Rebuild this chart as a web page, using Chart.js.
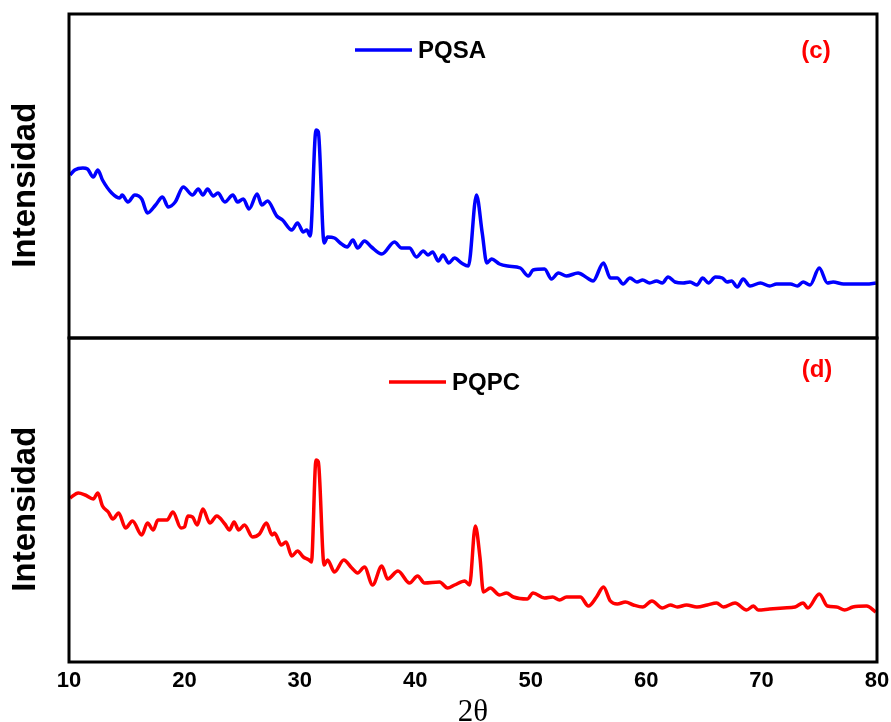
<!DOCTYPE html>
<html>
<head>
<meta charset="utf-8">
<script src="https://cdn.jsdelivr.net/npm/chart.js@4/dist/chart.umd.min.js"></script>
<style>
  html, body { margin: 0; padding: 0; background: #fff; }
  #wrap { width: 891px; height: 722px; }
</style>
</head>
<body>
<div id="wrap"><canvas id="xrd" width="891" height="722"></canvas></div>
<script>
// 2θ positions and intensity (a.u.)
const pqsaAngle = [10.1, 10.5, 11.2, 11.6, 12.1, 12.5, 12.9, 13.7, 14.4, 14.6, 15.1, 15.7, 16.3, 16.8, 17.5, 18.1, 18.6, 19.2, 19.9, 20.7,
  21.2, 21.6, 22.0, 22.5, 22.9, 23.5, 24.2, 24.6, 25.1, 25.6, 26.3, 26.7, 27.2, 28.0, 28.5, 29.3, 29.8, 30.3, 30.6, 30.9,
  31.4, 31.6, 32.1, 32.4, 33.0, 33.5, 34.1, 34.6, 35.0, 35.6, 36.2, 37.1, 38.2, 38.8, 39.5, 40.1, 40.7, 41.1, 41.5, 42.0,
  42.4, 42.9, 43.4, 44.0, 44.6, 45.3, 45.8, 46.2, 46.6, 47.3, 48.0, 49.1, 49.8, 50.2, 51.2, 51.8, 52.4, 53.1, 54.1, 54.9,
  55.4, 56.3, 56.9, 57.5, 58.0, 58.6, 59.2, 59.7, 60.3, 60.9, 61.4, 61.9, 62.5, 63.2, 63.8, 64.4, 64.9, 65.4, 66.0, 66.6,
  67.0, 67.4, 67.9, 68.4, 69.0, 69.9, 70.7, 71.3, 72.5, 73.1, 73.6, 74.2, 75.0, 75.7, 76.2, 77.1, 78.3, 79.1, 79.9];
const pqsaIntensity = [163, 168, 170, 169, 161, 168, 158, 145, 140, 143, 136, 143, 139, 125, 133, 141, 131, 136, 151, 143,
  149, 143, 149, 142, 145, 136, 143, 136, 139, 129, 144, 133, 137, 122, 118, 108, 115, 106, 108, 102,
  208, 206, 95, 101, 100, 95, 91, 98, 90, 97, 91, 84, 96, 90, 90, 81, 87, 83, 86, 77,
  83, 75, 80, 75, 72, 143, 105, 75, 79, 74, 72, 70, 62, 68, 69, 59, 65, 62, 65, 60,
  57, 75, 60, 60, 54, 60, 56, 58, 55, 57, 55, 61, 56, 55, 56, 53, 60, 55, 61, 60,
  56, 57, 51, 59, 52, 55, 52, 54, 54, 52, 56, 53, 70, 55, 56, 54, 54, 54, 55];

const pqpcAngle = [10.1, 10.8, 11.4, 12.1, 12.5, 12.9, 13.4, 13.8, 14.3, 14.9, 15.5, 16.3, 16.8, 17.3, 17.7, 18.5, 19.0, 19.7, 20.0, 20.3,
  20.7, 21.1, 21.6, 22.2, 22.8, 23.5, 23.9, 24.3, 24.7, 25.2, 25.9, 26.5, 27.1, 27.6, 27.8, 28.4, 28.8, 29.3, 29.8, 30.3,
  30.8, 31.0, 31.4, 31.6, 32.1, 32.4, 33.0, 33.8, 34.5, 35.0, 35.6, 36.3, 37.1, 37.6, 38.5, 39.5, 40.2, 40.8, 42.1, 42.8,
  43.4, 44.3, 44.7, 45.2, 45.6, 45.9, 46.5, 47.3, 47.9, 48.5, 49.7, 50.2, 51.2, 51.9, 52.5, 53.1, 54.3, 55.0, 55.7, 56.3,
  56.9, 57.5, 58.2, 58.9, 59.7, 60.5, 61.4, 62.1, 62.7, 63.5, 64.4, 65.3, 66.1, 66.7, 67.7, 68.7, 69.3, 69.7, 70.7, 71.9,
  72.9, 73.6, 74.0, 75.0, 75.7, 76.5, 77.2, 77.9, 79.1, 79.9];
const pqpcIntensity = [164, 169, 167, 163, 169, 156, 150, 143, 149, 134, 141, 127, 139, 132, 142, 142, 150, 134, 135, 146,
  145, 137, 153, 139, 146, 138, 132, 140, 132, 137, 125, 128, 139, 127, 129, 117, 120, 106, 111, 105,
  102, 100, 202, 200, 97, 102, 90, 102, 94, 89, 95, 77, 96, 83, 91, 79, 86, 79, 80, 74,
  77, 81, 77, 136, 105, 70, 74, 67, 69, 65, 63, 69, 64, 65, 62, 65, 65, 56, 65, 75,
  61, 58, 60, 57, 55, 61, 54, 57, 55, 57, 55, 57, 59, 55, 59, 52, 56, 52, 53, 54,
  55, 59, 54, 68, 56, 55, 52, 55, 56, 50];

const xTicks = [10, 20, 30, 40, 50, 60, 70, 80];
const panelLabels = ['(c)', '(d)'];

const toPoints = (xs, ys) => xs.map((x, i) => ({ x: x, y: ys[i] }));

// box around each panel + legend / panel letters
const panelPlugin = {
  id: 'panelPlugin',
  afterDatasetsDraw(chart, args, opts) {
    const ctx = chart.ctx;
    const area = chart.chartArea;
    ctx.save();
    ctx.strokeStyle = '#000';
    ctx.lineWidth = 3;
    ['yTop', 'yBot'].forEach(id => {
      const s = chart.scales[id];
      ctx.strokeRect(area.left, s.top, area.right - area.left, s.bottom - s.top);
    });

    chart.data.datasets.forEach((ds, i) => {
      const lg = opts.legends[i];
      ctx.strokeStyle = ds.borderColor;
      ctx.lineWidth = 3.5;
      ctx.beginPath();
      ctx.moveTo(lg.x, lg.y);
      ctx.lineTo(lg.x + 57, lg.y);
      ctx.stroke();
      ctx.fillStyle = '#000';
      ctx.font = 'bold 24px "Liberation Sans", Arial, sans-serif';
      ctx.textAlign = 'left';
      ctx.textBaseline = 'middle';
      ctx.fillText(ds.label, lg.x + 63, lg.y + 1);

      const tag = opts.tags[i];
      ctx.fillStyle = '#ff0000';
      ctx.font = 'bold 24px "Liberation Sans", Arial, sans-serif';
      ctx.textAlign = 'center';
      ctx.fillText(panelLabels[i], tag.x, tag.y);
    });
    ctx.restore();
  }
};

const yAxis = {
  type: 'linear',
  position: 'left',
  stack: 'panels',
  stackWeight: 1,
  min: 0,
  max: 324,
  grid: { display: false, drawTicks: false },
  border: { display: false },
  ticks: { display: false },
  title: {
    display: true,
    text: 'Intensidad  ',
    color: '#000',
    font: { family: '"Liberation Sans", Arial, sans-serif', size: 33, weight: 'bold' },
    padding: { top: 6, bottom: 0 }
  },
  afterFit(scale) { scale.width = 69; }
};

new Chart(document.getElementById('xrd'), {
  type: 'line',
  data: {
    datasets: [
      {
        label: 'PQSA',
        data: toPoints(pqsaAngle, pqsaIntensity),
        yAxisID: 'yTop',
        borderColor: '#0000ff',
        borderWidth: 3.5,
        pointRadius: 0,
        cubicInterpolationMode: 'monotone',
        fill: false
      },
      {
        label: 'PQPC',
        data: toPoints(pqpcAngle, pqpcIntensity),
        yAxisID: 'yBot',
        borderColor: '#ff0000',
        borderWidth: 3.5,
        pointRadius: 0,
        cubicInterpolationMode: 'monotone',
        fill: false
      }
    ]
  },
  options: {
    responsive: false,
    animation: false,
    layout: { padding: { top: 14, right: 14, left: 0, bottom: 0 } },
    plugins: {
      legend: { display: false },
      tooltip: { enabled: false },
      panelPlugin: {
        legends: [{ x: 355, y: 50 }, { x: 389, y: 382 }],
        tags: [{ x: 816, y: 51 }, { x: 817, y: 370 }]
      }
    },
    scales: {
      x: {
        type: 'linear',
        min: 10,
        max: 80,
        afterBuildTicks(scale) { scale.ticks = xTicks.map(v => ({ value: v })); },
        grid: { display: false, drawTicks: false },
        border: { display: false },
        ticks: {
          color: '#000',
          padding: 6,
          font: { family: '"Liberation Sans", Arial, sans-serif', size: 22, weight: 'bold' }
        },
        title: {
          display: true,
          text: '2θ',
          color: '#000',
          font: { family: '"Liberation Serif", "Times New Roman", serif', size: 31, lineHeight: 0.6 },
          padding: { top: 0, bottom: 0 }
        },
        afterFit(scale) {
          scale.height = 60;
          scale.paddingLeft = 0;
          scale.paddingRight = 0;
        }
      },
      yBot: Object.assign({}, yAxis),
      yTop: Object.assign({}, yAxis)
    }
  },
  plugins: [panelPlugin]
});
</script>
</body>
</html>
